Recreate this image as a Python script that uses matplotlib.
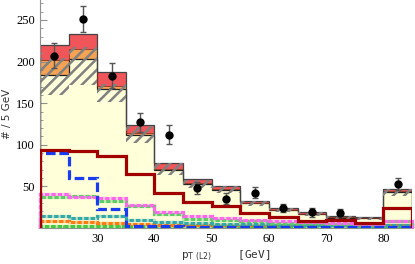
import numpy as np
import matplotlib
matplotlib.use("Agg")
import matplotlib.pyplot as plt
from matplotlib.ticker import MultipleLocator

# bin edges in pT (GeV), last bin is overflow
edges = [20, 25, 30, 35, 40, 45, 50, 55, 60, 65, 70, 75, 80, 85]

# stacked background: yellow main part, orange on top, red on top
main_bkg = [184, 203.6, 167, 112, 70, 52.6, 45.8, 30, 21.7, 16.5, 12.4, 11.5, 43.8]
orange_top = [201.6, 215, 171, 114, 71, 53.5, 46.5, 30.5, 22, 17, 13, 12, 44.5]
red_top = [220, 233, 188, 124, 78, 58.6, 50.6, 33, 24.5, 19, 14.8, 13.6, 47]

# hatched uncertainty band
band_lo = [160, 172, 152, 102, 64, 48, 42, 27, 19, 14, 10.5, 10, 39]
band_hi = [204, 218, 173, 122, 78, 58, 50, 33, 24.5, 19, 14.5, 13.5, 47]

# individual components drawn as lines
comp_darkred = [94, 92, 87, 65, 42, 31.7, 26.5, 18.4, 13.6, 8.8, 9.6, 5.6, 23.7]
comp_blue = [90, 60, 23, 3, 2, 1.8, 1.6, 1.5, 1.5, 1.5, 1.5, 1.5, 1.6]
comp_pink = [40.6, 37.7, 35.8, 28, 19.6, 14.5, 12.4, 9.6, 8, 7, 5.5, 5, 8.5]
comp_green = [37, 38.5, 32.5, 27, 17, 11, 10, 8, 6.5, 5.5, 5, 5, 9]
comp_teal = [14.5, 12.4, 14.5, 9.6, 7.5, 5.5, 5, 4.5, 4, 3.5, 3.5, 3, 4]
comp_orange = [8.8, 7.6, 6.4, 5, 4, 3.5, 3.5, 3.2, 3.2, 3.2, 3.2, 3.2, 3.2]
comp_dgreen = [2, 2, 2, 2, 2, 2, 2, 2, 2, 2, 2, 2, 2]

# data points (bin 75-80 has no point)
data_x = [22.5, 27.5, 32.5, 37.5, 42.5, 47.5, 52.5, 57.5, 62.5, 67.5, 72.5, 82.5]
data_y = [207, 251, 183, 127, 112, 47.8, 35, 42.5, 23.7, 19, 17.7, 52.6]
data_err = [15, 16, 15, 11.5, 11.5, 7, 6.5, 7, 5, 5.5, 5, 7]

plt.rcParams['font.family'] = ['Liberation Serif', 'DejaVu Serif']
plt.rcParams['hatch.linewidth'] = 1.8
plt.rcParams['hatch.color'] = '#808080'

fig = plt.figure(figsize=(4.15, 2.64), dpi=100)
ax = fig.add_axes([40 / 415, 36 / 264, 372 / 415, 228 / 264])

ax.stairs(main_bkg, edges, baseline=0, fill=True, color='#ffffd9', zorder=1)
ax.stairs(orange_top, edges, baseline=main_bkg, fill=True, color='#f5a352', zorder=1)
ax.stairs(red_top, edges, baseline=orange_top, fill=True, color='#f0555a', zorder=1)
ax.stairs(main_bkg, edges, baseline=0, color='#222222', lw=0.9, zorder=2)
ax.stairs(orange_top, edges, color='#8a3020', lw=0.6, zorder=2)
ax.stairs(red_top, edges, baseline=0, color='#444444', lw=0.9, zorder=2)
ax.stairs(band_hi, edges, baseline=band_lo, fill=True, facecolor='none',
          edgecolor='#808080', hatch='///', lw=0, zorder=3)

dot = (0, (1.4, 0.7))
for vals, col in [(comp_dgreen, '#44c844'), (comp_orange, '#ff7a10'),
                  (comp_teal, '#33a8a8'), (comp_green, '#5ccc66'),
                  (comp_pink, '#ff66ee')]:
    ax.stairs(vals, edges, color=col, lw=2.4, alpha=0.35, zorder=4, clip_on=False)
    ax.stairs(vals, edges, color=col, lw=2.2, ls=dot, zorder=4, clip_on=False)
ax.stairs(comp_blue, edges, color='#1a3cf0', lw=2.3, ls=(0, (3, 1.2)), zorder=5)
ax.stairs(comp_darkred, edges, color='#a00000', lw=2.3, zorder=6)

ax.errorbar(data_x, data_y, yerr=data_err, fmt='o', color='black', ms=5,
            ecolor='#555555', elinewidth=1.0, capsize=2, capthick=1.0, zorder=7)

ax.set_xlim(20, 85)
ax.set_ylim(0, 274)
ax.set_xticks([30, 40, 50, 60, 70, 80])
ax.set_yticks([50, 100, 150, 200, 250])
ax.xaxis.set_minor_locator(MultipleLocator(2))
ax.yaxis.set_minor_locator(MultipleLocator(10))

for s in ['top', 'right']:
    ax.spines[s].set_visible(False)
for s in ['left', 'bottom']:
    ax.spines[s].set_color('#909090')
    ax.spines[s].set_linewidth(0.8)
ax.tick_params(which='both', direction='in', colors='#909090', labelcolor='black',
               labelsize=9)
ax.tick_params(which='major', length=5)
ax.tick_params(which='minor', length=2.5)

ax.set_ylabel('# / 5 GeV', fontsize=7.5, color='#333333', labelpad=3,
              family='DejaVu Sans')
ax.set_xlabel(r'p$_{\mathrm{T\ (L2)}}$    [GeV]', fontsize=8, color='#333333',
              family='DejaVu Sans Mono', labelpad=3)

fig.savefig('out.png', dpi=100)
